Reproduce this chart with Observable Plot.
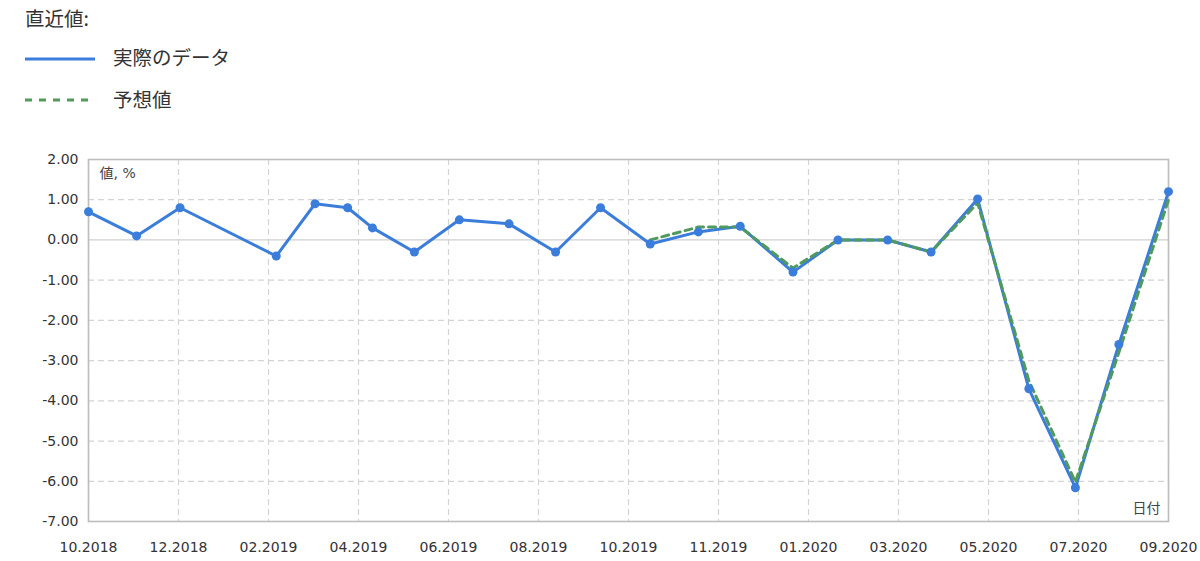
<!DOCTYPE html>
<html>
<head>
<meta charset="utf-8">
<script src="https://cdn.jsdelivr.net/npm/d3@7"></script>
<script src="https://cdn.jsdelivr.net/npm/@observablehq/plot@0.6"></script>
<style>
  html, body { margin: 0; padding: 0; background: #fff; }
  #wrap { position: relative; width: 1200px; height: 561px; overflow: hidden; }
  #legend { position: relative; height: 130px; font-family: "Noto Sans CJK JP", "Noto Sans", sans-serif; color: #333; }
  .lg { position: absolute; font-size: 19.5px; line-height: 1; }
  #chart { position: absolute; left: 0; top: 130px; }
</style>
</head>
<body>
<div id="wrap">
  <div id="legend"></div>
  <div id="chart"></div>
</div>
<script>
// ---- data ----
const dates = [
  "2018-10-19","2018-11-19","2018-12-17","2019-02-17","2019-03-14","2019-04-04",
  "2019-04-20","2019-05-17","2019-06-15","2019-07-17","2019-08-16","2019-09-14",
  "2019-10-16","2019-11-16","2019-12-13","2020-01-16","2020-02-14","2020-03-17",
  "2020-04-14","2020-05-14","2020-06-16","2020-07-16","2020-08-13","2020-09-14"
];
const actual = [
  0.7, 0.1, 0.8, -0.4, 0.9, 0.8,
  0.3, -0.3, 0.5, 0.4, -0.3, 0.8,
  -0.1, 0.2, 0.34, -0.8, 0.0, 0.0,
  -0.3, 1.02, -3.7, -6.16, -2.6, 1.2
];
const forecast = [
  null, null, null, null, null, null,
  null, null, null, null, null, null,
  0.0, 0.32, 0.32, -0.7, 0.0, 0.0,
  -0.3, 0.92, -3.5, -6.02, -2.8, 1.0
];
const xTickDates = [
  "2018-10-19","2018-12-16","2019-02-12","2019-04-11","2019-06-08","2019-08-05",
  "2019-10-02","2019-11-29","2020-01-26","2020-03-24","2020-05-21","2020-07-18","2020-09-14"
];
const yTicks = [-7, -6, -5, -4, -3, -2, -1, 0, 1, 2];
const legendTitle = "直近値:";
const seriesNames = ["実際のデータ", "予想値"];
const yAxisLabel = "値, %";
const xAxisLabel = "日付";
const colors = { actual: "#3b7ddb", forecast: "#4f9a5c" };

// ---- build ----
const parse = d3.utcParse("%Y-%m-%d");
const rows = dates.map((d, i) => ({ date: parse(d), actual: actual[i], forecast: forecast[i] }));
const xTicks = xTickDates.map(parse);

// legend
const legend = document.getElementById("legend");
legend.innerHTML = `
  <div class="lg" style="left:25px; top:8px;">${legendTitle}</div>
  <svg style="position:absolute; left:0; top:0;" width="120" height="130">
    <line x1="25" x2="95" y1="59" y2="59" stroke="${colors.actual}" stroke-width="3"/>
    <line x1="25" x2="95" y1="100" y2="100" stroke="${colors.forecast}" stroke-width="3" stroke-dasharray="7,7"/>
  </svg>
  <div class="lg" style="left:113px; top:47px;">${seriesNames[0]}</div>
  <div class="lg" style="left:113px; top:89px;">${seriesNames[1]}</div>
`;

const chart = Plot.plot({
  width: 1200,
  height: 431,
  marginTop: 29,
  marginBottom: 40,
  marginLeft: 88,
  marginRight: 32,
  style: { fontFamily: "'DejaVu Sans', 'Noto Sans CJK JP', sans-serif", fontSize: "14px", color: "#333", background: "transparent" },
  x: {
    type: "utc",
    domain: [rows[0].date, rows[rows.length - 1].date],
    ticks: xTicks,
    tickFormat: d3.utcFormat("%m.%Y"),
    tickSize: 0,
    tickPadding: 21,
    label: null
  },
  y: {
    domain: [-7, 2],
    ticks: yTicks,
    tickFormat: d => d.toFixed(2),
    tickSize: 0,
    tickPadding: 10,
    label: null
  },
  marks: [
    Plot.gridY(yTicks.filter(v => v !== 0), { stroke: "#d4d4d4", strokeOpacity: 1, strokeDasharray: "6,4", strokeWidth: 1.2 }),
    Plot.gridX(xTicks, { stroke: "#d4d4d4", strokeOpacity: 1, strokeDasharray: "6,4", strokeWidth: 1.2 }),
    Plot.ruleY([0], { stroke: "#cfcfcf", strokeWidth: 1.3 }),
    Plot.frame({ stroke: "#bdbdbd", strokeWidth: 1.6 }),
    Plot.line(rows, { x: "date", y: "actual", stroke: colors.actual, strokeWidth: 3 }),
    Plot.line(rows.filter(r => r.forecast != null), { x: "date", y: "forecast", stroke: colors.forecast, strokeWidth: 3, strokeDasharray: "7,5" }),
    Plot.dot(rows, { x: "date", y: "actual", r: 4.5, fill: colors.actual, stroke: "none" }),
    Plot.text([yAxisLabel], { frameAnchor: "top-left", lineAnchor: "middle", dx: 11, dy: 14, textAnchor: "start", fill: "#444", fontSize: 14 }),
    Plot.text([xAxisLabel], { frameAnchor: "bottom-right", lineAnchor: "middle", dx: -8, dy: -13, textAnchor: "end", fill: "#444", fontSize: 14 })
  ]
});
document.getElementById("chart").appendChild(chart);
</script>
</body>
</html>
